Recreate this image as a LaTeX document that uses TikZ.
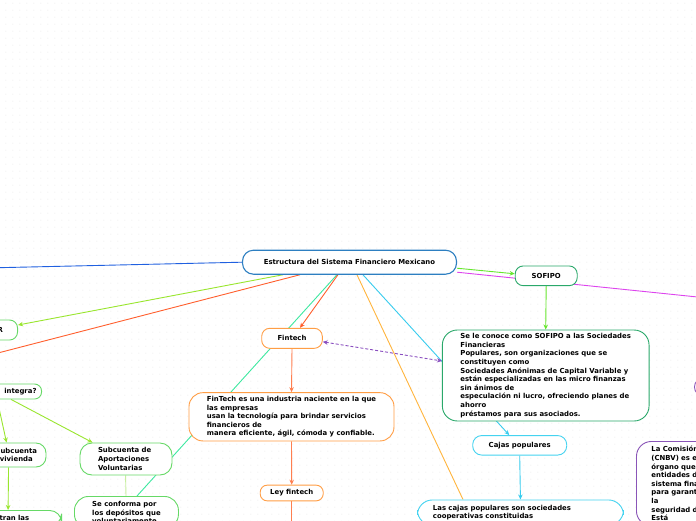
\documentclass[tikz,border=0pt]{standalone}
\usepackage{fontspec}
\setmainfont{DejaVu Sans}
\usetikzlibrary{arrows.meta,calc,patterns.meta}
\pgfdeclarelayer{bg}
\pgfdeclarelayer{lines}
\pgfsetlayers{bg,lines,main}
\definecolor{cRoot}{HTML}{2D7FC1}
\definecolor{cSof}{HTML}{2AA86A}
\definecolor{cLg}{HTML}{66D966}
\definecolor{cOr}{HTML}{FF9E45}
\definecolor{cCy}{HTML}{45D3F0}
\definecolor{cPu}{HTML}{8A55B8}
\definecolor{lBlue}{HTML}{2060E0}
\definecolor{lLime}{HTML}{99E62E}
\definecolor{lRed}{HTML}{FF5F2E}
\definecolor{lCoral}{HTML}{FF7F50}
\definecolor{lTeal}{HTML}{3DE8A0}
\definecolor{lGold}{HTML}{FFB53D}
\definecolor{lCyan}{HTML}{38CCEE}
\definecolor{lGreen}{HTML}{66E62E}
\definecolor{lMag}{HTML}{DD44EE}
\definecolor{lPur}{HTML}{8A4FC0}
\definecolor{lPale}{HTML}{C8EFA0}
\tikzdeclarepattern{
  name=bgdots, type=uncolored,
  bottom left={(-1pt,-1pt)}, top right={(6pt,6pt)},
  tile size={(7pt,7pt)},
  code={\fill (0pt,0pt) circle (0.5pt);}
}
\tikzset{
  nd/.style={draw, fill=white, line width=0.9pt, font=\bfseries\fontsize{6.9}{8.6}\selectfont, inner sep=2pt},
  pill/.style={nd, rounded corners=8pt, align=center},
  box/.style={nd, rounded corners=#1},
  box/.default=12pt,
  conn/.style={line width=0.9pt},
  arr/.style={-{Stealth[length=5pt,width=4.5pt]}},
}
\begin{document}
\begin{tikzpicture}[x=1pt,y=-1pt]
\useasboundingbox (0,0) rectangle (696,520);
\begin{pgfonlayer}{bg}
\fill[white] (0,0) rectangle (696,520);
\fill[pattern=bgdots, pattern color=black!12] (0,0) rectangle (696,520);
\end{pgfonlayer}

% nodes
\node[pill, draw=cRoot, line width=1.1pt, minimum width=214pt, minimum height=24pt, rounded corners=11pt] (root) at (349.5,262.2) {Estructura del Sistema Financiero Mexicano};
\node[pill, draw=cSof, minimum width=62pt, minimum height=19.7pt] (sofipo) at (546.2,275.8) {SOFIPO};
\node[pill, draw=cLg, text width=30pt, align=right, inner xsep=14.5pt, minimum height=20pt, anchor=east] (rnode) at (18,330) {R};
\node[pill, draw=cLg, text width=50pt, align=right, inner xsep=5pt, minimum height=15pt, rounded corners=7pt, anchor=east] (integra) at (42,391.5) {integra?};
\node[box=10pt, draw=cLg, text width=44pt, align=center, inner xsep=7.7pt, minimum height=24pt] (vivienda) at (16.3,455) {Subcuenta\\vivienda};
\node[box=12pt, draw=cLg, text width=56pt, align=left, inner xsep=18pt, minimum height=32pt] (aport) at (126,459) {Subcuenta de\\Aportaciones\\Voluntarias};
\node[box=12pt, draw=cLg, text width=47pt, align=left, inner xsep=15pt, inner ysep=5pt, anchor=north east] (tranlas) at (62,510) {tran las};
\node[box=14pt, draw=cLg, align=left, minimum width=104pt, inner ysep=4.7pt, anchor=north west] (conforma) at (74,496) {Se conforma por\\los depósitos que\\voluntariamente};

\node[pill, draw=cOr, minimum width=60.6pt, minimum height=20pt] (fintech) at (292,338.3) {Fintech};
\node[box=14pt, draw=cOr, align=left, minimum width=205pt, minimum height=48.3pt] (fintechdesc) at (291.5,416.8) {FinTech es una industria naciente en la que\\las empresas\\usan la tecnología para brindar servicios\\financieros de\\manera eficiente, ágil, cómoda y confiable.};
\node[pill, draw=cOr, minimum width=63pt, minimum height=15.7pt, rounded corners=7pt] (ley) at (291.7,493) {Ley fintech};

\node[box=15pt, draw=cSof, align=left, minimum width=206.7pt, minimum height=91pt] (sofipodesc) at (545.7,375.5) {Se le conoce como SOFIPO a las Sociedades\\Financieras\\Populares, son organizaciones que se\\constituyen como\\Sociedades Anónimas de Capital Variable y\\están especializadas en las micro finanzas\\sin ánimos de\\especulación ni lucro, ofreciendo planes de\\ahorro\\préstamos para sus asociados.};
\node[pill, draw=cCy, minimum width=94pt, minimum height=19.5pt, rounded corners=9pt] (cajas) at (519.7,445.3) {Cajas populares};
\node[box=15pt, draw=cCy, text width=175pt, align=left, inner xsep=15.5pt, inner ysep=5pt, anchor=north west] (cajasdesc) at (417,499.5) {Las cajas populares son sociedades\\cooperativas constituidas};

\node[box=15pt, draw=cPu, text width=110pt, align=left, inner xsep=15pt, inner ysep=5pt, anchor=north west] (cnbv) at (636,441) {La Comisión\\(CNBV) es el\\órgano que\\entidades del\\sistema financiero\\para garantizar\\la\\seguridad del\\Está};
\node[box=9pt, draw=cPu, minimum width=40pt, minimum height=18pt, anchor=west] (pnode) at (694,387) {};

\coordinate (blueEnd) at (-60,269);
\coordinate (redEnd) at (-60,368);
\coordinate (magEnd) at (780,305.5);
\coordinate (leyEnd) at (291.7,540);

% connectors
\begin{pgfonlayer}{lines}
\draw[conn, lBlue] (root.west) -- (blueEnd);
\draw[conn, lLime, arr] ($(root.south west)+(41,0)$) -- ($(rnode.east)+(0,-5)$);
\draw[conn, lRed] ($(root.south west)+(58,0)$) -- (redEnd);
\draw[conn, lTeal] ($(root.south west)+(95,0)$) -- ($(conforma.north west)+(63,0)$);
\draw[conn, lRed, arr] ($(root.south west)+(96,0)$) -- ($(fintech.north)+(8,0)$);
\draw[conn, lGold] ($(root.south west)+(115,0)$) -- ($(cajasdesc.north west)+(46,0)$);
\draw[conn, lCyan, arr] ($(root.south west)+(121,0)$) -- ($(cajas.north west)+(37,0)$);
\draw[conn, lGreen, arr] ($(root.east)+(0,6)$) -- ($(sofipo.west)+(0,-2)$);
\draw[conn, lMag] ($(root.east)+(0,10)$) -- (magEnd);
\draw[conn, lGreen, arr] (sofipo.south) -- (sofipodesc.north);
\draw[conn, lCyan, arr] (cajas.south) -- (cajasdesc.north);
\draw[conn, lCoral, arr] (fintech.south) -- (fintechdesc.north);
\draw[conn, lCoral, arr] (fintechdesc.south) -- (ley.north);
\draw[conn, lCoral] (ley.south) -- (leyEnd);
\draw[conn, lPur, dash pattern=on 3pt off 2pt, {Stealth[length=5pt,width=4.5pt]}-{Stealth[length=5pt,width=4.5pt]}] ($(fintech.east)+(0,3.5)$) -- ($(sofipodesc.west)+(0,-14.5)$);
\draw[conn, lLime, arr] ($(integra.south west)+(16,0)$) -- ($(vivienda.north west)+(20.4,0)$);
\draw[conn, lLime, arr] ($(integra.south west)+(30,0)$) -- ($(aport.north west)+(13,0)$);
\draw[conn, lLime, arr] ($(vivienda.south west)+(22.4,0)$) -- ($(tranlas.north west)+(24,0)$);
\draw[conn, lPale] ($(aport.south west)+(46,0)$) -- ($(conforma.north west)+(52,0)$);
\end{pgfonlayer}
\end{tikzpicture}
\end{document}
